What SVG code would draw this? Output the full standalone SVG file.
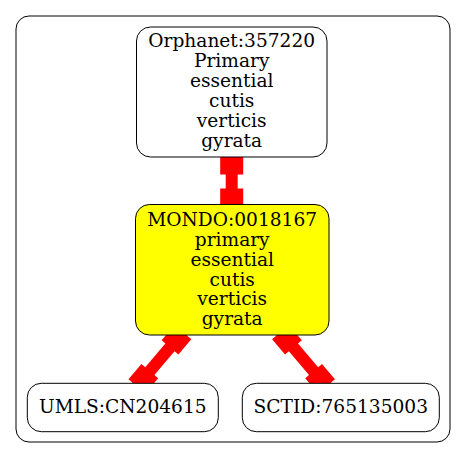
<svg xmlns="http://www.w3.org/2000/svg" width="467" height="459" viewBox="0 0 467 459">
<style>
  .node { stroke: #000; stroke-width: 1; }
  .t { font-family: "DejaVu Serif", "Liberation Serif", serif; font-size: 18.6px; text-anchor: middle; fill: #000; }
  .edge { fill: #ff0000; stroke: none; }
</style>
<rect x="16" y="16" width="434" height="426" rx="13" ry="13" fill="#fff" stroke="#000" stroke-width="1"/>
<g id="edges">
  <g class="edge" transform="translate(231.7,181.5) rotate(90)">
    <rect x="-30" y="-6" width="60" height="12"/>
    <rect x="-30" y="-11.5" width="23" height="23"/>
    <rect x="7" y="-11.5" width="23" height="23"/>
  </g>
  <g class="edge" transform="translate(159.9,359.2) rotate(130.3)">
    <rect x="-35.6" y="-6" width="71.2" height="12"/>
    <rect x="-35.6" y="-11" width="20" height="22"/>
    <rect x="15.6" y="-11" width="20" height="22"/>
  </g>
  <g class="edge" transform="translate(303.5,359.2) rotate(49.7)">
    <rect x="-35.6" y="-6" width="71.2" height="12"/>
    <rect x="-35.6" y="-11" width="20" height="22"/>
    <rect x="15.6" y="-11" width="20" height="22"/>
  </g>
</g>
<g id="orphanet">
  <rect class="node" x="136.5" y="27" width="190.5" height="130" rx="14" ry="14" fill="#fff"/>
  <text class="t" x="231.7" y="46.7">Orphanet:357220</text>
  <text class="t" x="231.7" y="66.7">Primary</text>
  <text class="t" x="231.7" y="86.7">essential</text>
  <text class="t" x="231.7" y="106.7">cutis</text>
  <text class="t" x="231.7" y="126.7">verticis</text>
  <text class="t" x="231.7" y="146.7">gyrata</text>
</g>
<g id="mondo">
  <rect class="node" x="135.5" y="204.5" width="193.5" height="130.5" rx="14" ry="14" fill="#ffff00"/>
  <text class="t" x="232.2" y="226.2">MONDO:0018167</text>
  <text class="t" x="232.2" y="246">primary</text>
  <text class="t" x="232.2" y="265.8">essential</text>
  <text class="t" x="232.2" y="285.6">cutis</text>
  <text class="t" x="232.2" y="305.4">verticis</text>
  <text class="t" x="232.2" y="325.2">gyrata</text>
</g>
<g id="umls">
  <rect class="node" x="27.3" y="383.3" width="191" height="48.4" rx="14" ry="14" fill="#fff"/>
  <text class="t" x="122.8" y="413.3">UMLS:CN204615</text>
</g>
<g id="sctid">
  <rect class="node" x="242.3" y="383.3" width="197" height="48.4" rx="14" ry="14" fill="#fff"/>
  <text class="t" x="340.8" y="413.3">SCTID:765135003</text>
</g>
</svg>
